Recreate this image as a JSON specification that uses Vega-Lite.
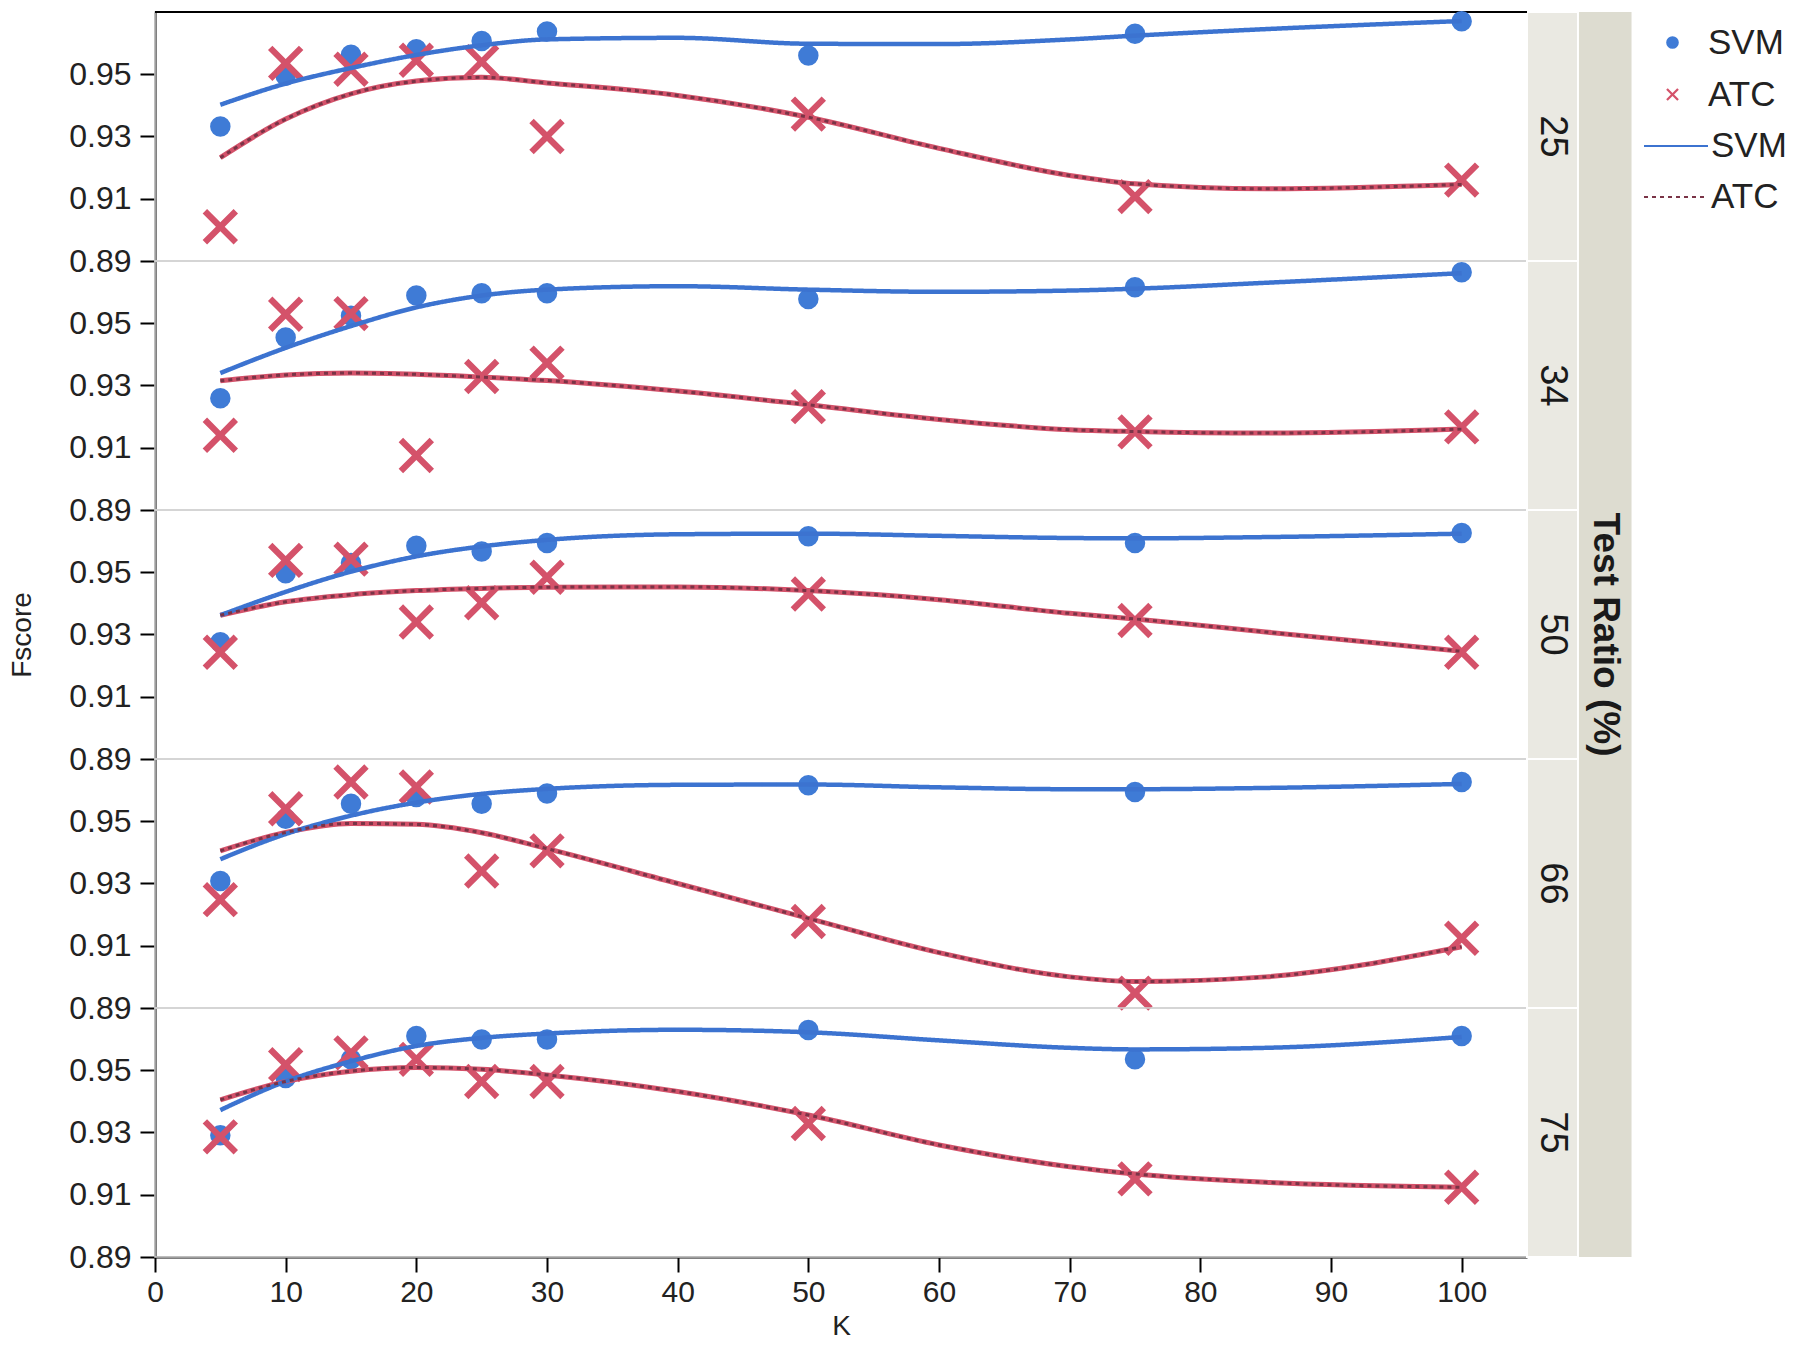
{
  "$schema": "https://vega.github.io/schema/vega-lite/v6.json",
  "padding": {"left": 9, "top": 10, "right": 5, "bottom": 5},
  "background": "white",
  "bounds": "flush",
  "data": {"values": [
    {"Ratio":25,"Kind":"obs","Model":"SVM","K":5,"Fscore":0.9332},{"Ratio":25,"Kind":"obs","Model":"SVM","K":10,"Fscore":0.9495},{"Ratio":25,"Kind":"obs","Model":"SVM","K":15,"Fscore":0.9563},{"Ratio":25,"Kind":"obs","Model":"SVM","K":20,"Fscore":0.958},{"Ratio":25,"Kind":"obs","Model":"SVM","K":25,"Fscore":0.9607},{"Ratio":25,"Kind":"obs","Model":"SVM","K":30,"Fscore":0.9637},{"Ratio":25,"Kind":"obs","Model":"SVM","K":50,"Fscore":0.956},{"Ratio":25,"Kind":"obs","Model":"SVM","K":75,"Fscore":0.963},{"Ratio":25,"Kind":"obs","Model":"SVM","K":100,"Fscore":0.967},
    {"Ratio":25,"Kind":"obs","Model":"ATC","K":5,"Fscore":0.901},{"Ratio":25,"Kind":"obs","Model":"ATC","K":10,"Fscore":0.9535},{"Ratio":25,"Kind":"obs","Model":"ATC","K":15,"Fscore":0.9516},{"Ratio":25,"Kind":"obs","Model":"ATC","K":20,"Fscore":0.9545},{"Ratio":25,"Kind":"obs","Model":"ATC","K":25,"Fscore":0.954},{"Ratio":25,"Kind":"obs","Model":"ATC","K":30,"Fscore":0.93},{"Ratio":25,"Kind":"obs","Model":"ATC","K":50,"Fscore":0.9372},{"Ratio":25,"Kind":"obs","Model":"ATC","K":75,"Fscore":0.9107},{"Ratio":25,"Kind":"obs","Model":"ATC","K":100,"Fscore":0.916},
    {"Ratio":34,"Kind":"obs","Model":"SVM","K":5,"Fscore":0.9259},{"Ratio":34,"Kind":"obs","Model":"SVM","K":10,"Fscore":0.9454},{"Ratio":34,"Kind":"obs","Model":"SVM","K":15,"Fscore":0.9524},{"Ratio":34,"Kind":"obs","Model":"SVM","K":20,"Fscore":0.9589},{"Ratio":34,"Kind":"obs","Model":"SVM","K":25,"Fscore":0.9596},{"Ratio":34,"Kind":"obs","Model":"SVM","K":30,"Fscore":0.9596},{"Ratio":34,"Kind":"obs","Model":"SVM","K":50,"Fscore":0.9578},{"Ratio":34,"Kind":"obs","Model":"SVM","K":75,"Fscore":0.9616},{"Ratio":34,"Kind":"obs","Model":"SVM","K":100,"Fscore":0.9664},
    {"Ratio":34,"Kind":"obs","Model":"ATC","K":5,"Fscore":0.914},{"Ratio":34,"Kind":"obs","Model":"ATC","K":10,"Fscore":0.9529},{"Ratio":34,"Kind":"obs","Model":"ATC","K":15,"Fscore":0.9531},{"Ratio":34,"Kind":"obs","Model":"ATC","K":20,"Fscore":0.9075},{"Ratio":34,"Kind":"obs","Model":"ATC","K":25,"Fscore":0.9329},{"Ratio":34,"Kind":"obs","Model":"ATC","K":30,"Fscore":0.9372},{"Ratio":34,"Kind":"obs","Model":"ATC","K":50,"Fscore":0.9232},{"Ratio":34,"Kind":"obs","Model":"ATC","K":75,"Fscore":0.9151},{"Ratio":34,"Kind":"obs","Model":"ATC","K":100,"Fscore":0.9167},
    {"Ratio":50,"Kind":"obs","Model":"SVM","K":5,"Fscore":0.9275},{"Ratio":50,"Kind":"obs","Model":"SVM","K":10,"Fscore":0.9497},{"Ratio":50,"Kind":"obs","Model":"SVM","K":15,"Fscore":0.953},{"Ratio":50,"Kind":"obs","Model":"SVM","K":20,"Fscore":0.9585},{"Ratio":50,"Kind":"obs","Model":"SVM","K":25,"Fscore":0.9567},{"Ratio":50,"Kind":"obs","Model":"SVM","K":30,"Fscore":0.9594},{"Ratio":50,"Kind":"obs","Model":"SVM","K":50,"Fscore":0.9616},{"Ratio":50,"Kind":"obs","Model":"SVM","K":75,"Fscore":0.9594},{"Ratio":50,"Kind":"obs","Model":"SVM","K":100,"Fscore":0.9626},
    {"Ratio":50,"Kind":"obs","Model":"ATC","K":5,"Fscore":0.9243},{"Ratio":50,"Kind":"obs","Model":"ATC","K":10,"Fscore":0.9538},{"Ratio":50,"Kind":"obs","Model":"ATC","K":15,"Fscore":0.9542},{"Ratio":50,"Kind":"obs","Model":"ATC","K":20,"Fscore":0.934},{"Ratio":50,"Kind":"obs","Model":"ATC","K":25,"Fscore":0.9402},{"Ratio":50,"Kind":"obs","Model":"ATC","K":30,"Fscore":0.9484},{"Ratio":50,"Kind":"obs","Model":"ATC","K":50,"Fscore":0.943},{"Ratio":50,"Kind":"obs","Model":"ATC","K":75,"Fscore":0.9345},{"Ratio":50,"Kind":"obs","Model":"ATC","K":100,"Fscore":0.9243},
    {"Ratio":66,"Kind":"obs","Model":"SVM","K":5,"Fscore":0.9308},{"Ratio":66,"Kind":"obs","Model":"SVM","K":10,"Fscore":0.9508},{"Ratio":66,"Kind":"obs","Model":"SVM","K":15,"Fscore":0.9556},{"Ratio":66,"Kind":"obs","Model":"SVM","K":20,"Fscore":0.9578},{"Ratio":66,"Kind":"obs","Model":"SVM","K":25,"Fscore":0.9556},{"Ratio":66,"Kind":"obs","Model":"SVM","K":30,"Fscore":0.9589},{"Ratio":66,"Kind":"obs","Model":"SVM","K":50,"Fscore":0.9616},{"Ratio":66,"Kind":"obs","Model":"SVM","K":75,"Fscore":0.9594},{"Ratio":66,"Kind":"obs","Model":"SVM","K":100,"Fscore":0.9626},
    {"Ratio":66,"Kind":"obs","Model":"ATC","K":5,"Fscore":0.9248},{"Ratio":66,"Kind":"obs","Model":"ATC","K":10,"Fscore":0.954},{"Ratio":66,"Kind":"obs","Model":"ATC","K":15,"Fscore":0.9626},{"Ratio":66,"Kind":"obs","Model":"ATC","K":20,"Fscore":0.961},{"Ratio":66,"Kind":"obs","Model":"ATC","K":25,"Fscore":0.934},{"Ratio":66,"Kind":"obs","Model":"ATC","K":30,"Fscore":0.9405},{"Ratio":66,"Kind":"obs","Model":"ATC","K":50,"Fscore":0.9178},{"Ratio":66,"Kind":"obs","Model":"ATC","K":75,"Fscore":0.8948},{"Ratio":66,"Kind":"obs","Model":"ATC","K":100,"Fscore":0.9124},
    {"Ratio":75,"Kind":"obs","Model":"SVM","K":5,"Fscore":0.9291},{"Ratio":75,"Kind":"obs","Model":"SVM","K":10,"Fscore":0.9475},{"Ratio":75,"Kind":"obs","Model":"SVM","K":15,"Fscore":0.9535},{"Ratio":75,"Kind":"obs","Model":"SVM","K":20,"Fscore":0.961},{"Ratio":75,"Kind":"obs","Model":"SVM","K":25,"Fscore":0.9599},{"Ratio":75,"Kind":"obs","Model":"SVM","K":30,"Fscore":0.9599},{"Ratio":75,"Kind":"obs","Model":"SVM","K":50,"Fscore":0.9629},{"Ratio":75,"Kind":"obs","Model":"SVM","K":75,"Fscore":0.9535},{"Ratio":75,"Kind":"obs","Model":"SVM","K":100,"Fscore":0.961},
    {"Ratio":75,"Kind":"obs","Model":"ATC","K":5,"Fscore":0.9286},{"Ratio":75,"Kind":"obs","Model":"ATC","K":10,"Fscore":0.9518},{"Ratio":75,"Kind":"obs","Model":"ATC","K":15,"Fscore":0.9556},{"Ratio":75,"Kind":"obs","Model":"ATC","K":20,"Fscore":0.9535},{"Ratio":75,"Kind":"obs","Model":"ATC","K":25,"Fscore":0.9464},{"Ratio":75,"Kind":"obs","Model":"ATC","K":30,"Fscore":0.9464},{"Ratio":75,"Kind":"obs","Model":"ATC","K":50,"Fscore":0.9329},{"Ratio":75,"Kind":"obs","Model":"ATC","K":75,"Fscore":0.9151},{"Ratio":75,"Kind":"obs","Model":"ATC","K":100,"Fscore":0.9124},
    {"Ratio":25,"Kind":"fit","Model":"SVM","K":5,"Fscore":0.9402},{"Ratio":25,"Kind":"fit","Model":"SVM","K":10,"Fscore":0.947},{"Ratio":25,"Kind":"fit","Model":"SVM","K":15,"Fscore":0.952},{"Ratio":25,"Kind":"fit","Model":"SVM","K":20,"Fscore":0.9562},{"Ratio":25,"Kind":"fit","Model":"SVM","K":25,"Fscore":0.9593},{"Ratio":25,"Kind":"fit","Model":"SVM","K":30,"Fscore":0.9612},{"Ratio":25,"Kind":"fit","Model":"SVM","K":40,"Fscore":0.9617},{"Ratio":25,"Kind":"fit","Model":"SVM","K":50,"Fscore":0.9598},{"Ratio":25,"Kind":"fit","Model":"SVM","K":60,"Fscore":0.9597},{"Ratio":25,"Kind":"fit","Model":"SVM","K":70,"Fscore":0.9612},{"Ratio":25,"Kind":"fit","Model":"SVM","K":75,"Fscore":0.9624},{"Ratio":25,"Kind":"fit","Model":"SVM","K":85,"Fscore":0.9645},{"Ratio":25,"Kind":"fit","Model":"SVM","K":100,"Fscore":0.9671},
    {"Ratio":25,"Kind":"fit","Model":"ATC","K":5,"Fscore":0.9232},{"Ratio":25,"Kind":"fit","Model":"ATC","K":10,"Fscore":0.9356},{"Ratio":25,"Kind":"fit","Model":"ATC","K":15,"Fscore":0.9437},{"Ratio":25,"Kind":"fit","Model":"ATC","K":20,"Fscore":0.9478},{"Ratio":25,"Kind":"fit","Model":"ATC","K":25,"Fscore":0.949},{"Ratio":25,"Kind":"fit","Model":"ATC","K":30,"Fscore":0.9472},{"Ratio":25,"Kind":"fit","Model":"ATC","K":40,"Fscore":0.9432},{"Ratio":25,"Kind":"fit","Model":"ATC","K":50,"Fscore":0.9362},{"Ratio":25,"Kind":"fit","Model":"ATC","K":60,"Fscore":0.9262},{"Ratio":25,"Kind":"fit","Model":"ATC","K":70,"Fscore":0.9175},{"Ratio":25,"Kind":"fit","Model":"ATC","K":75,"Fscore":0.9148},{"Ratio":25,"Kind":"fit","Model":"ATC","K":85,"Fscore":0.9132},{"Ratio":25,"Kind":"fit","Model":"ATC","K":100,"Fscore":0.9146},
    {"Ratio":34,"Kind":"fit","Model":"SVM","K":5,"Fscore":0.934},{"Ratio":34,"Kind":"fit","Model":"SVM","K":10,"Fscore":0.9421},{"Ratio":34,"Kind":"fit","Model":"SVM","K":15,"Fscore":0.9491},{"Ratio":34,"Kind":"fit","Model":"SVM","K":20,"Fscore":0.9551},{"Ratio":34,"Kind":"fit","Model":"SVM","K":25,"Fscore":0.9589},{"Ratio":34,"Kind":"fit","Model":"SVM","K":30,"Fscore":0.9608},{"Ratio":34,"Kind":"fit","Model":"SVM","K":40,"Fscore":0.9619},{"Ratio":34,"Kind":"fit","Model":"SVM","K":50,"Fscore":0.9608},{"Ratio":34,"Kind":"fit","Model":"SVM","K":60,"Fscore":0.9601},{"Ratio":34,"Kind":"fit","Model":"SVM","K":70,"Fscore":0.9605},{"Ratio":34,"Kind":"fit","Model":"SVM","K":75,"Fscore":0.9611},{"Ratio":34,"Kind":"fit","Model":"SVM","K":85,"Fscore":0.963},{"Ratio":34,"Kind":"fit","Model":"SVM","K":100,"Fscore":0.9661},
    {"Ratio":34,"Kind":"fit","Model":"ATC","K":5,"Fscore":0.9315},{"Ratio":34,"Kind":"fit","Model":"ATC","K":10,"Fscore":0.9334},{"Ratio":34,"Kind":"fit","Model":"ATC","K":15,"Fscore":0.934},{"Ratio":34,"Kind":"fit","Model":"ATC","K":20,"Fscore":0.9336},{"Ratio":34,"Kind":"fit","Model":"ATC","K":25,"Fscore":0.9327},{"Ratio":34,"Kind":"fit","Model":"ATC","K":30,"Fscore":0.9316},{"Ratio":34,"Kind":"fit","Model":"ATC","K":40,"Fscore":0.9282},{"Ratio":34,"Kind":"fit","Model":"ATC","K":50,"Fscore":0.9238},{"Ratio":34,"Kind":"fit","Model":"ATC","K":60,"Fscore":0.9191},{"Ratio":34,"Kind":"fit","Model":"ATC","K":70,"Fscore":0.9158},{"Ratio":34,"Kind":"fit","Model":"ATC","K":75,"Fscore":0.9152},{"Ratio":34,"Kind":"fit","Model":"ATC","K":85,"Fscore":0.9147},{"Ratio":34,"Kind":"fit","Model":"ATC","K":100,"Fscore":0.916},
    {"Ratio":50,"Kind":"fit","Model":"SVM","K":5,"Fscore":0.9362},{"Ratio":50,"Kind":"fit","Model":"SVM","K":10,"Fscore":0.9437},{"Ratio":50,"Kind":"fit","Model":"SVM","K":15,"Fscore":0.9502},{"Ratio":50,"Kind":"fit","Model":"SVM","K":20,"Fscore":0.9551},{"Ratio":50,"Kind":"fit","Model":"SVM","K":25,"Fscore":0.9583},{"Ratio":50,"Kind":"fit","Model":"SVM","K":30,"Fscore":0.9604},{"Ratio":50,"Kind":"fit","Model":"SVM","K":40,"Fscore":0.9622},{"Ratio":50,"Kind":"fit","Model":"SVM","K":50,"Fscore":0.9624},{"Ratio":50,"Kind":"fit","Model":"SVM","K":60,"Fscore":0.9617},{"Ratio":50,"Kind":"fit","Model":"SVM","K":70,"Fscore":0.961},{"Ratio":50,"Kind":"fit","Model":"SVM","K":75,"Fscore":0.9609},{"Ratio":50,"Kind":"fit","Model":"SVM","K":85,"Fscore":0.9613},{"Ratio":50,"Kind":"fit","Model":"SVM","K":100,"Fscore":0.9624},
    {"Ratio":50,"Kind":"fit","Model":"ATC","K":5,"Fscore":0.9362},{"Ratio":50,"Kind":"fit","Model":"ATC","K":10,"Fscore":0.9405},{"Ratio":50,"Kind":"fit","Model":"ATC","K":15,"Fscore":0.9428},{"Ratio":50,"Kind":"fit","Model":"ATC","K":20,"Fscore":0.9441},{"Ratio":50,"Kind":"fit","Model":"ATC","K":25,"Fscore":0.9448},{"Ratio":50,"Kind":"fit","Model":"ATC","K":30,"Fscore":0.9452},{"Ratio":50,"Kind":"fit","Model":"ATC","K":40,"Fscore":0.9453},{"Ratio":50,"Kind":"fit","Model":"ATC","K":50,"Fscore":0.9441},{"Ratio":50,"Kind":"fit","Model":"ATC","K":60,"Fscore":0.9412},{"Ratio":50,"Kind":"fit","Model":"ATC","K":70,"Fscore":0.9368},{"Ratio":50,"Kind":"fit","Model":"ATC","K":75,"Fscore":0.935},{"Ratio":50,"Kind":"fit","Model":"ATC","K":85,"Fscore":0.9308},{"Ratio":50,"Kind":"fit","Model":"ATC","K":100,"Fscore":0.9246},
    {"Ratio":66,"Kind":"fit","Model":"SVM","K":5,"Fscore":0.9378},{"Ratio":66,"Kind":"fit","Model":"SVM","K":10,"Fscore":0.9459},{"Ratio":66,"Kind":"fit","Model":"SVM","K":15,"Fscore":0.9518},{"Ratio":66,"Kind":"fit","Model":"SVM","K":20,"Fscore":0.956},{"Ratio":66,"Kind":"fit","Model":"SVM","K":25,"Fscore":0.9588},{"Ratio":66,"Kind":"fit","Model":"SVM","K":30,"Fscore":0.9604},{"Ratio":66,"Kind":"fit","Model":"SVM","K":40,"Fscore":0.9617},{"Ratio":66,"Kind":"fit","Model":"SVM","K":50,"Fscore":0.9618},{"Ratio":66,"Kind":"fit","Model":"SVM","K":60,"Fscore":0.9609},{"Ratio":66,"Kind":"fit","Model":"SVM","K":70,"Fscore":0.9603},{"Ratio":66,"Kind":"fit","Model":"SVM","K":75,"Fscore":0.9603},{"Ratio":66,"Kind":"fit","Model":"SVM","K":85,"Fscore":0.9607},{"Ratio":66,"Kind":"fit","Model":"SVM","K":100,"Fscore":0.962},
    {"Ratio":66,"Kind":"fit","Model":"ATC","K":5,"Fscore":0.9405},{"Ratio":66,"Kind":"fit","Model":"ATC","K":10,"Fscore":0.9464},{"Ratio":66,"Kind":"fit","Model":"ATC","K":15,"Fscore":0.9493},{"Ratio":66,"Kind":"fit","Model":"ATC","K":20,"Fscore":0.949},{"Ratio":66,"Kind":"fit","Model":"ATC","K":25,"Fscore":0.9463},{"Ratio":66,"Kind":"fit","Model":"ATC","K":30,"Fscore":0.9412},{"Ratio":66,"Kind":"fit","Model":"ATC","K":40,"Fscore":0.93},{"Ratio":66,"Kind":"fit","Model":"ATC","K":50,"Fscore":0.9188},{"Ratio":66,"Kind":"fit","Model":"ATC","K":60,"Fscore":0.9078},{"Ratio":66,"Kind":"fit","Model":"ATC","K":70,"Fscore":0.9},{"Ratio":66,"Kind":"fit","Model":"ATC","K":75,"Fscore":0.8985},{"Ratio":66,"Kind":"fit","Model":"ATC","K":85,"Fscore":0.9},{"Ratio":66,"Kind":"fit","Model":"ATC","K":100,"Fscore":0.9097},
    {"Ratio":75,"Kind":"fit","Model":"SVM","K":5,"Fscore":0.9372},{"Ratio":75,"Kind":"fit","Model":"SVM","K":10,"Fscore":0.9464},{"Ratio":75,"Kind":"fit","Model":"SVM","K":15,"Fscore":0.9529},{"Ratio":75,"Kind":"fit","Model":"SVM","K":20,"Fscore":0.9578},{"Ratio":75,"Kind":"fit","Model":"SVM","K":25,"Fscore":0.9604},{"Ratio":75,"Kind":"fit","Model":"SVM","K":30,"Fscore":0.9618},{"Ratio":75,"Kind":"fit","Model":"SVM","K":40,"Fscore":0.963},{"Ratio":75,"Kind":"fit","Model":"SVM","K":50,"Fscore":0.9622},{"Ratio":75,"Kind":"fit","Model":"SVM","K":60,"Fscore":0.9596},{"Ratio":75,"Kind":"fit","Model":"SVM","K":70,"Fscore":0.9572},{"Ratio":75,"Kind":"fit","Model":"SVM","K":75,"Fscore":0.9567},{"Ratio":75,"Kind":"fit","Model":"SVM","K":85,"Fscore":0.9572},{"Ratio":75,"Kind":"fit","Model":"SVM","K":100,"Fscore":0.9607},
    {"Ratio":75,"Kind":"fit","Model":"ATC","K":5,"Fscore":0.9405},{"Ratio":75,"Kind":"fit","Model":"ATC","K":10,"Fscore":0.9464},{"Ratio":75,"Kind":"fit","Model":"ATC","K":15,"Fscore":0.9497},{"Ratio":75,"Kind":"fit","Model":"ATC","K":20,"Fscore":0.9509},{"Ratio":75,"Kind":"fit","Model":"ATC","K":25,"Fscore":0.9503},{"Ratio":75,"Kind":"fit","Model":"ATC","K":30,"Fscore":0.9485},{"Ratio":75,"Kind":"fit","Model":"ATC","K":40,"Fscore":0.9432},{"Ratio":75,"Kind":"fit","Model":"ATC","K":50,"Fscore":0.9356},{"Ratio":75,"Kind":"fit","Model":"ATC","K":60,"Fscore":0.926},{"Ratio":75,"Kind":"fit","Model":"ATC","K":70,"Fscore":0.919},{"Ratio":75,"Kind":"fit","Model":"ATC","K":75,"Fscore":0.9167},{"Ratio":75,"Kind":"fit","Model":"ATC","K":85,"Fscore":0.914},{"Ratio":75,"Kind":"fit","Model":"ATC","K":100,"Fscore":0.9124}
  ]},
  "facet": {"row": {"field": "Ratio", "type": "ordinal", "title": "Fscore",
    "header": {"labels": false, "titleOrient": "left", "titleAngle": -90, "titleFont": "Liberation Sans", "titleFontSize": 28, "titleFontWeight": "normal", "titleColor": "#222", "titlePadding": -7}}},
  "spacing": 0,
  "spec": {
    "width": 1372,
    "height": 249,
    "layer": [
      {
        "transform": [{"filter": "datum.Kind == 'obs' && datum.Model == 'SVM' && datum.K == 100"}],
        "mark": {"type": "rect", "color": "#dddcd0", "clip": false},
        "encoding": {
          "x": {"datum": 108.9, "type": "quantitative", "scale": {"domain": [0, 105], "nice": false, "zero": false}},
          "x2": {"datum": 113},
          "y": {"datum": 0.89, "type": "quantitative", "scale": {"domain": [0.89, 0.97], "nice": false, "zero": false}},
          "y2": {"datum": 0.97}
        }
      },
      {
        "transform": [{"filter": "datum.Kind == 'obs' && datum.Model == 'SVM' && datum.K == 100"}],
        "mark": {"type": "rect", "color": "#eae9e2", "stroke": "white", "strokeWidth": 2, "clip": false},
        "encoding": {
          "x": {"datum": 105, "type": "quantitative", "scale": {"domain": [0, 105], "nice": false, "zero": false}},
          "x2": {"datum": 108.9},
          "y": {"datum": 0.89, "type": "quantitative", "scale": {"domain": [0.89, 0.97], "nice": false, "zero": false}},
          "y2": {"datum": 0.97}
        }
      },
      {
        "transform": [{"filter": "datum.Kind == 'obs' && datum.Model == 'SVM' && datum.K == 100"}],
        "mark": {"type": "text", "angle": 90, "align": "center", "baseline": "middle", "font": "Liberation Sans", "fontSize": 38, "color": "#1a1a1a"},
        "encoding": {
          "x": {"datum": 106.95, "type": "quantitative", "scale": {"domain": [0, 105], "nice": false, "zero": false}},
          "y": {"datum": 0.93, "type": "quantitative", "scale": {"domain": [0.89, 0.97], "nice": false, "zero": false}},
          "text": {"field": "Ratio"}
        }
      },
      {
        "transform": [{"filter": "datum.Kind == 'obs' && datum.Model == 'SVM' && datum.K == 100 && datum.Ratio == 50"}],
        "mark": {"type": "text", "angle": 90, "align": "center", "baseline": "middle", "font": "Liberation Sans", "fontSize": 37, "fontWeight": "bold", "color": "#1a1a1a"},
        "encoding": {
          "x": {"datum": 110.95, "type": "quantitative", "scale": {"domain": [0, 105], "nice": false, "zero": false}},
          "y": {"datum": 0.93, "type": "quantitative", "scale": {"domain": [0.89, 0.97], "nice": false, "zero": false}},
          "text": {"value": "Test Ratio (%)"}
        }
      },
      {
        "transform": [{"filter": "datum.Kind == 'obs' && datum.Model == 'SVM' && datum.K == 100 && datum.Ratio == 25"}],
        "mark": {"type": "rule", "color": "black", "strokeWidth": 2},
        "encoding": {
          "x": {"datum": 0, "type": "quantitative", "scale": {"domain": [0, 105], "nice": false, "zero": false}},
          "x2": {"datum": 105},
          "y": {"datum": 0.97, "type": "quantitative", "scale": {"domain": [0.89, 0.97], "nice": false, "zero": false}}
        }
      },
      {
        "transform": [{"filter": "datum.Kind == 'obs'"}],
        "mark": {"type": "point", "filled": true, "opacity": 1, "strokeWidth": 0},
        "encoding": {
          "x": {"field": "K", "type": "quantitative", "title": "K", "scale": {"domain": [0, 105], "nice": false, "zero": false},
                "axis": {"values": [0, 10, 20, 30, 40, 50, 60, 70, 80, 90, 100]}},
          "y": {"field": "Fscore", "type": "quantitative", "title": null, "scale": {"domain": [0.89, 0.97], "nice": false, "zero": false},
                "axis": {"title": null, "values": [0.89, 0.9, 0.91, 0.92, 0.93, 0.94, 0.95, 0.96], "format": ".2f",
                         "labelExpr": "(datum.label == '0.89' || datum.label == '0.91' || datum.label == '0.93' || datum.label == '0.95') ? datum.label : ''"}},
          "color": {"field": "Model", "type": "nominal", "sort": "descending", "scale": {"range": ["#3f7bd6", "#d4526a"]},
                    "legend": {"title": null, "orient": "none", "legendX": 1500, "legendY": 13, "labelFontSize": 35, "rowPadding": 16, "labelOffset": 18, "symbolSize": 160, "symbolStrokeWidth": 0}},
          "shape": {"field": "Model", "type": "nominal", "sort": "descending",
                    "scale": {"range": ["circle", "M0,-0.25L0.75,-1L1,-0.75L0.25,0L1,0.75L0.75,1L0,0.25L-0.75,1L-1,0.75L-0.25,0L-1,-0.75L-0.75,-1Z"]},
                    "legend": {"title": null, "orient": "none", "legendX": 1500, "legendY": 13, "labelFontSize": 35, "rowPadding": 16, "labelOffset": 18, "symbolSize": 160, "symbolStrokeWidth": 0}},
          "size": {"condition": {"test": "datum.Model == 'SVM'", "value": 420}, "value": 1250}
        }
      },
      {
        "transform": [{"filter": "datum.Kind == 'fit' && datum.Model == 'ATC'"}],
        "mark": {"type": "line", "interpolate": "monotone", "strokeWidth": 5, "color": "#d4526a"},
        "encoding": {
          "x": {"field": "K", "type": "quantitative", "scale": {"domain": [0, 105], "nice": false, "zero": false}},
          "y": {"field": "Fscore", "type": "quantitative", "title": null, "scale": {"domain": [0.89, 0.97], "nice": false, "zero": false}}
        }
      },
      {
        "transform": [{"filter": "datum.Kind == 'fit'"}],
        "mark": {"type": "line", "interpolate": "monotone"},
        "encoding": {
          "x": {"field": "K", "type": "quantitative", "scale": {"domain": [0, 105], "nice": false, "zero": false}},
          "y": {"field": "Fscore", "type": "quantitative", "title": null, "scale": {"domain": [0.89, 0.97], "nice": false, "zero": false}},
          "stroke": {"field": "Model", "type": "nominal", "sort": "descending", "scale": {"range": ["#3c73d0", "#7a3447"]},
                     "legend": {"title": null, "orient": "none", "legendX": 1488, "legendY": 101, "labelFontSize": 35, "rowPadding": -12, "labelOffset": 2,
                                "symbolType": "stroke", "symbolSize": 4096, "symbolStrokeWidth": 2}},
          "strokeDash": {"field": "Model", "type": "nominal", "sort": "descending", "scale": {"range": [[1, 0], [4, 4]]},
                         "legend": {"title": null, "orient": "none", "legendX": 1488, "legendY": 101, "labelFontSize": 35, "rowPadding": -12, "labelOffset": 2,
                                    "symbolType": "stroke", "symbolSize": 4096, "symbolStrokeWidth": 2}},
          "strokeWidth": {"condition": {"test": "datum.Model == 'SVM'", "value": 4.5}, "value": 3}
        }
      }
    ]
  },
  "config": {
    "font": "Liberation Sans",
    "view": {"stroke": "#d2d2d2", "strokeWidth": 1.5},
    "axis": {"domainColor": "black", "domainWidth": 2, "tickColor": "black", "tickWidth": 2, "tickSize": 15, "grid": false,
             "labelFont": "Liberation Sans", "labelFontSize": 30, "labelColor": "#222", "titleFont": "Liberation Sans", "titleFontSize": 28, "titleFontWeight": "normal", "titleColor": "#222"},
    "axisY": {"labelPadding": 9, "labelFlush": false, "labelFontSize": 32},
    "axisX": {"labelPadding": 5, "titlePadding": 5, "labelFlush": false},
    "legend": {"labelFont": "Liberation Sans", "labelColor": "#222"}
  }
}
